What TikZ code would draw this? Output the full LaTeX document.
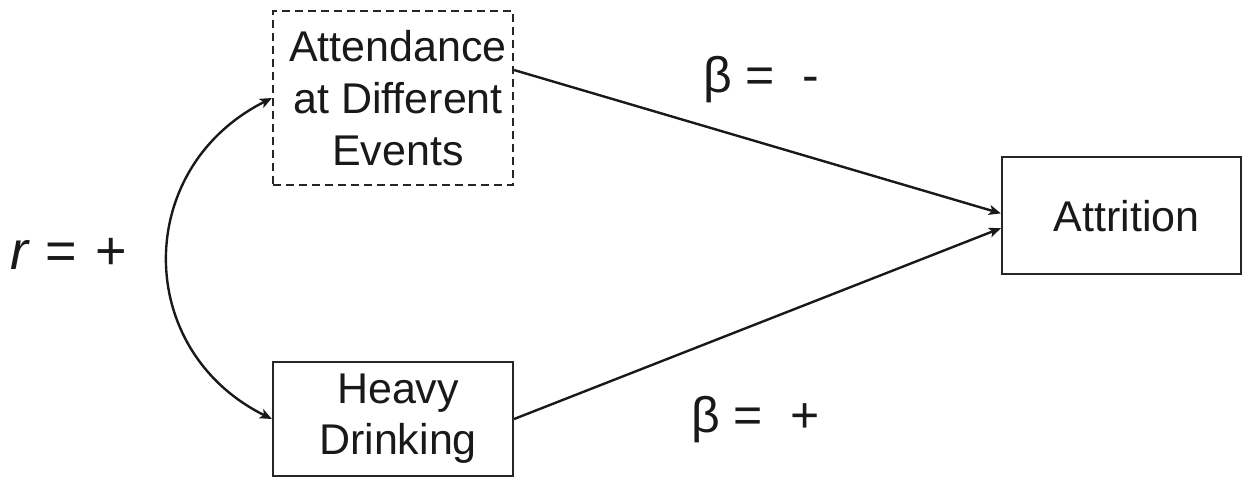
\documentclass[tikz,border=0pt]{standalone}
\usepackage{fontspec}
\setmainfont{Liberation Sans}
\usetikzlibrary{arrows.meta,calc}
\begin{document}
\begin{tikzpicture}[x=1pt,y=-1pt,
  tip/.tip={Stealth[length=12pt,width=10pt,inset=3pt]},
  box/.style={draw=black!85, line width=2.2pt, minimum width=240pt, inner sep=0pt},
  boxtext/.style={font=\fontsize{43}{52}\selectfont, align=center, text=black!90, inner sep=0pt},
  conn/.style={line width=2.4pt, draw=black!90, -tip},
  lbl/.style={font=\fontsize{50}{60}\selectfont, text=black!90, inner sep=0pt}]
\useasboundingbox (0,0) rectangle (1247,477);
\node[box, dash pattern=on 8pt off 5pt, minimum height=174pt] (att) at (393,98) {};
\node[boxtext] (attT) at ($(att.center)+(5,0)$) {Attendance\\at Different\\Events};
\node[box, minimum height=114pt] (hd) at (393,419) {};
\node[boxtext, font=\fontsize{43}{51}\selectfont] (hdT) at ($(hd.center)+(5,0)$) {Heavy\\Drinking};
\node[box, minimum width=239pt, minimum height=117pt] (attr) at (1121.5,215.5) {};
\node[boxtext] (attrT) at ($(attr.center)+(5,1)$) {Attrition};
\draw[conn] (att.13) -- (attr.179);
\draw[conn] (hd.east) -- (attr.186);
\draw[conn, tip-tip] (hd.west) .. controls (133,350) and (133,168) .. (att.west);
\node[lbl, anchor=base west] (b1) at (703,92) {β =\ \ -};
\node[lbl, anchor=base west] (b2) at (691,432) {β =\ \ +};
\node[lbl, font=\fontsize{54}{60}\selectfont, anchor=base west] (r) at (10,269) {\textit{r} = \hspace{4pt}+};
\end{tikzpicture}
\end{document}
